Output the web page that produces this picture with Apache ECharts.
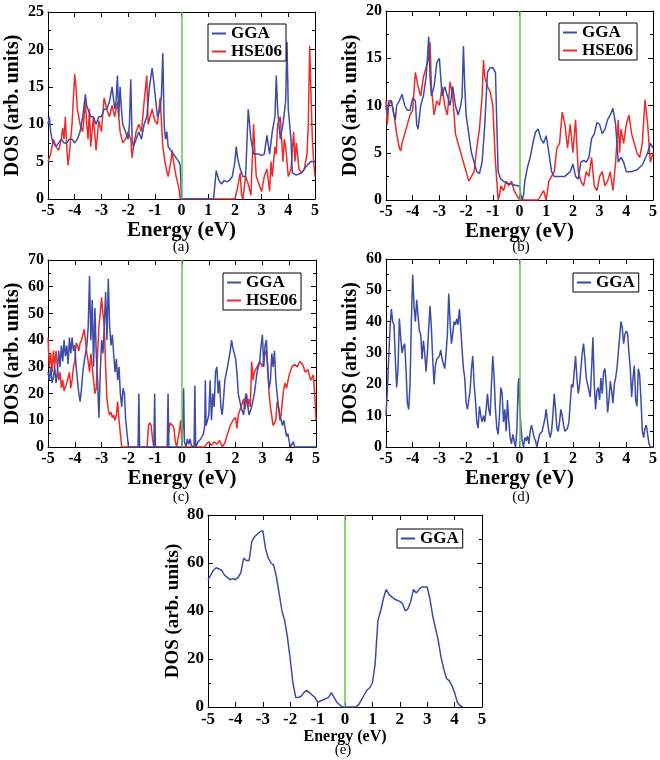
<!DOCTYPE html>
<html>
<head>
<meta charset="utf-8">
<script src="https://cdn.jsdelivr.net/npm/echarts@6/dist/echarts.min.js"></script>
<style>
  html, body { margin: 0; padding: 0; background: #fff; }
  #main { width: 660px; height: 760px; }
</style>
</head>
<body>
<div id="main"></div>
<script>
// energy (eV), DOS (arb. units) pairs
const aGGA = [[-5,10],[-4.95,11],[-4.9,9],[-4.85,8],[-4.8,7.5],[-4.7,7],[-4.6,7.5],[-4.5,8],[-4.4,7.5],[-4.3,7.5],[-4.2,8],[-4.1,8],[-4.0,7.5],[-3.9,8],[-3.8,9],[-3.7,11],[-3.6,14],[-3.55,12.5],[-3.5,12],[-3.4,11],[-3.3,11],[-3.2,10],[-3.1,11],[-3.0,11],[-2.9,12],[-2.8,12],[-2.7,13],[-2.6,15],[-2.5,12],[-2.45,13],[-2.4,16.5],[-2.35,11],[-2.3,15],[-2.25,12],[-2.2,10],[-2.1,9],[-2.0,8],[-1.95,10],[-1.9,16],[-1.85,8],[-1.8,7],[-1.7,8],[-1.6,9],[-1.5,8],[-1.4,10],[-1.3,11],[-1.2,15],[-1.1,17.5],[-1.05,16],[-1.0,16],[-0.9,11],[-0.8,12],[-0.75,14],[-0.7,19.5],[-0.65,10],[-0.6,8],[-0.55,9],[-0.5,7],[-0.4,6.5],[-0.3,6],[-0.2,5.5],[-0.1,5],[-0.05,4.5],[0,0],[1.2,0],[1.3,3.8],[1.4,2.5],[1.5,2],[1.6,2.5],[1.7,2.3],[1.8,2.5],[1.9,3],[2.0,5],[2.05,7],[2.1,5.5],[2.2,4],[2.3,3],[2.4,3],[2.5,12],[2.6,8],[2.7,6],[2.8,6],[2.9,6],[3.0,5.8],[3.1,6],[3.2,8.5],[3.3,6],[3.4,9],[3.5,11],[3.55,16.5],[3.6,12],[3.7,8],[3.8,10],[3.9,13],[3.95,21],[4.0,12],[4.1,8],[4.15,3.5],[4.3,3.2],[4.5,3.5],[4.7,4.5],[4.85,5],[5.0,5]];
const aHSE = [[-5,5],[-4.9,6],[-4.8,8],[-4.7,7],[-4.6,6.5],[-4.5,8],[-4.45,9.5],[-4.4,8],[-4.35,11],[-4.3,7],[-4.25,4.5],[-4.2,6],[-4.1,10],[-4.0,16.7],[-3.95,15],[-3.9,12],[-3.8,10],[-3.7,9],[-3.6,13],[-3.55,10],[-3.5,8],[-3.45,12],[-3.4,7],[-3.3,11],[-3.2,6.5],[-3.1,10.5],[-3.0,9],[-2.9,13.5],[-2.8,12],[-2.7,11],[-2.6,12.5],[-2.5,11],[-2.4,13],[-2.3,9],[-2.2,7.5],[-2.1,8],[-2.0,9],[-1.9,8],[-1.85,5.5],[-1.8,7],[-1.7,9],[-1.6,10],[-1.5,9],[-1.4,13],[-1.3,16.5],[-1.25,10],[-1.2,10],[-1.1,12],[-1.0,10.5],[-0.9,10],[-0.8,13.5],[-0.7,7],[-0.6,4.5],[-0.5,3],[-0.4,5],[-0.35,6.5],[-0.3,5],[-0.2,3],[-0.1,1.5],[-0.05,0],[2.0,0],[2.1,1.5],[2.2,3.5],[2.25,0.5],[2.3,0],[2.4,3],[2.5,2],[2.6,0.5],[2.7,10],[2.75,6],[2.8,3],[2.9,2],[3.0,1],[3.1,3],[3.2,4],[3.3,1],[3.35,5],[3.4,3],[3.5,7],[3.55,6],[3.6,10],[3.7,11],[3.75,8],[3.8,5],[3.85,8],[3.9,7],[4.0,3],[4.1,4],[4.2,9],[4.25,5],[4.3,7.5],[4.4,4],[4.5,3.5],[4.6,4],[4.7,6],[4.75,10],[4.8,20.5],[4.85,14],[4.9,8],[4.95,5],[5.0,3]];

const bGGA = [[-5,10],[-4.95,9],[-4.9,10.5],[-4.8,10.5],[-4.7,9],[-4.65,8.5],[-4.6,10],[-4.5,10.5],[-4.4,11.2],[-4.3,10],[-4.2,9.5],[-4.1,9.5],[-4.0,10.8],[-3.9,10.5],[-3.85,8],[-3.8,7.5],[-3.7,10],[-3.6,11],[-3.5,13],[-3.45,15],[-3.4,17.3],[-3.35,13],[-3.3,11],[-3.2,12],[-3.1,14.5],[-3.0,15],[-2.95,13],[-2.9,11],[-2.8,12],[-2.7,11],[-2.6,10],[-2.5,12],[-2.4,10],[-2.3,9],[-2.2,10],[-2.15,11],[-2.1,16.3],[-2.05,12],[-2.0,9],[-1.9,7],[-1.8,5],[-1.7,4],[-1.6,3],[-1.5,2.8],[-1.4,4],[-1.3,8],[-1.2,13.5],[-1.1,14],[-1.0,14],[-0.9,13.5],[-0.85,8],[-0.8,3],[-0.7,2.2],[-0.5,1.8],[-0.3,1.7],[-0.1,1.5],[0,1.5],[0.05,0.5],[0.1,0],[0.15,0.5],[0.2,2],[0.3,3.5],[0.4,4.5],[0.5,6],[0.6,7.2],[0.7,7.5],[0.8,6.5],[0.9,6],[1.0,6.8],[1.1,5],[1.2,3],[1.3,2.5],[1.5,2.5],[1.7,2.5],[1.9,3],[2.0,3.8],[2.1,2.5],[2.2,2.2],[2.3,4],[2.4,4.2],[2.5,4],[2.6,4.5],[2.7,6.5],[2.8,7],[2.9,8.2],[3.0,8],[3.1,7],[3.2,7.5],[3.3,8.5],[3.4,9],[3.5,9.7],[3.6,8],[3.65,6],[3.7,4],[3.8,4.5],[3.9,4],[4.0,3],[4.2,3],[4.4,3.2],[4.6,3.7],[4.8,5],[4.9,6],[5.0,5.5]];
const bHSE = [[-5,10.5],[-4.95,8],[-4.9,10],[-4.8,10.5],[-4.7,9],[-4.6,7],[-4.5,5.5],[-4.45,5.2],[-4.4,6],[-4.3,7],[-4.2,8],[-4.1,9],[-4.0,9.5],[-3.9,13.5],[-3.8,12],[-3.7,11],[-3.6,13],[-3.5,14],[-3.4,15],[-3.35,16.7],[-3.3,12],[-3.2,9],[-3.1,10.5],[-3.0,10],[-2.9,12],[-2.8,10],[-2.7,9],[-2.6,12.5],[-2.5,11],[-2.4,7],[-2.3,6],[-2.2,5],[-2.1,4],[-2.0,3],[-1.9,2],[-1.8,2.5],[-1.7,3],[-1.6,5.5],[-1.5,7.5],[-1.4,11],[-1.35,14.8],[-1.3,13],[-1.2,12],[-1.1,11.5],[-1.0,10],[-0.9,4],[-0.85,2],[-0.8,0],[-0.75,0.5],[-0.7,1.5],[-0.6,1],[-0.5,2],[-0.4,1.5],[-0.3,2],[-0.2,1],[-0.1,0.5],[0,0],[0.7,0],[0.8,0.5],[0.9,1],[1.0,0],[1.1,2],[1.2,2.5],[1.3,3],[1.4,5.5],[1.5,6],[1.6,9.3],[1.7,8],[1.8,5.5],[1.9,8],[2.0,5],[2.1,8.5],[2.2,3],[2.3,2],[2.4,1.5],[2.5,3],[2.6,2.5],[2.7,4.5],[2.8,1.5],[2.9,1],[3.0,2.5],[3.1,3],[3.2,1.5],[3.3,2],[3.4,3],[3.5,1],[3.6,4],[3.7,8.5],[3.75,5],[3.8,7.5],[3.9,6],[4.0,8],[4.1,9],[4.2,7],[4.3,6],[4.4,5],[4.5,4.5],[4.6,6],[4.7,10.6],[4.8,8],[4.9,4],[5.0,5]];

const cGGA = [[-5,28],[-4.95,25],[-4.9,30],[-4.85,24],[-4.8,26],[-4.75,30],[-4.7,24],[-4.65,28],[-4.6,36],[-4.55,30],[-4.5,38],[-4.45,32],[-4.4,40],[-4.35,34],[-4.3,38],[-4.25,31],[-4.2,41],[-4.15,35],[-4.1,41],[-4.05,36],[-4.0,38],[-3.95,30],[-3.9,25],[-3.85,20],[-3.8,17],[-3.75,22],[-3.7,28],[-3.65,32],[-3.6,35],[-3.55,38],[-3.5,45],[-3.45,64],[-3.4,40],[-3.35,55],[-3.3,30],[-3.25,52],[-3.2,35],[-3.15,25],[-3.1,11],[-3.05,28],[-3.0,40],[-2.95,35],[-2.9,45],[-2.85,58],[-2.8,40],[-2.75,63],[-2.7,45],[-2.65,38],[-2.6,42],[-2.55,35],[-2.5,28],[-2.45,33],[-2.4,25],[-2.35,30],[-2.3,20],[-2.25,15],[-2.2,22],[-2.15,20],[-2.1,10],[-2.05,5],[-2.0,0],[-1.64,0],[-1.61,20],[-1.58,0],[-1.05,0],[-1.02,20],[-0.99,0],[-0.55,0],[-0.52,20],[-0.49,0],[0,0],[0.03,10],[0.06,22],[0.09,2],[0.15,0],[0.2,3],[0.25,1],[0.3,3],[0.35,0.5],[0.45,0],[0.48,23],[0.51,0],[0.6,2],[0.7,3],[0.8,5],[0.85,8],[0.87,25],[0.9,8],[1.0,12],[1.05,25],[1.1,10],[1.15,20],[1.2,15],[1.25,28],[1.3,30],[1.35,20],[1.4,25],[1.45,15],[1.5,12],[1.55,18],[1.6,25],[1.7,30],[1.8,36],[1.85,40],[1.9,37],[2.0,33],[2.05,28],[2.1,20],[2.2,15],[2.3,12],[2.35,18],[2.4,20],[2.5,12],[2.6,15],[2.7,20],[2.8,28],[2.9,32],[2.95,38],[3.0,42],[3.05,30],[3.1,38],[3.15,40],[3.2,28],[3.25,22],[3.3,25],[3.35,35],[3.4,30],[3.45,36],[3.5,25],[3.55,20],[3.6,15],[3.65,12],[3.7,10],[3.75,8],[3.8,10],[3.85,7],[3.9,4],[3.95,5],[4.0,2],[4.05,0],[4.1,1],[4.15,2],[4.2,0],[5.0,0]];
const cHSE = [[-5,41],[-4.95,30],[-4.9,35],[-4.85,28],[-4.8,36],[-4.75,30],[-4.7,36],[-4.65,30],[-4.6,25],[-4.55,28],[-4.5,22],[-4.45,25],[-4.4,21],[-4.3,24],[-4.2,28],[-4.15,22],[-4.1,25],[-4.05,30],[-4.0,32],[-3.95,39],[-3.9,38],[-3.85,36],[-3.8,39],[-3.75,40],[-3.7,42],[-3.65,44],[-3.6,40],[-3.55,35],[-3.5,32],[-3.45,28],[-3.4,35],[-3.35,30],[-3.3,25],[-3.25,20],[-3.2,22],[-3.15,35],[-3.1,45],[-3.05,50],[-3.0,56],[-2.95,50],[-2.9,45],[-2.85,30],[-2.8,18],[-2.75,14],[-2.7,12],[-2.65,13],[-2.6,11],[-2.55,12],[-2.5,10],[-2.45,12],[-2.4,17],[-2.35,10],[-2.3,5],[-2.25,0],[-1.3,0],[-1.25,8],[-1.2,9],[-1.15,8],[-1.1,3],[-1.05,0],[-0.55,0],[-0.5,5],[-0.45,9],[-0.4,9],[-0.35,8],[-0.3,7],[-0.25,2],[-0.2,0],[-0.1,6],[-0.05,10],[0,0],[0.85,0],[0.9,1],[1.0,2],[1.1,0.5],[1.2,2],[1.3,1],[1.4,2.5],[1.5,0],[1.6,1.5],[1.7,5],[1.8,8],[1.9,10],[2.0,11],[2.05,7],[2.1,12],[2.2,15],[2.3,18],[2.35,14],[2.4,20],[2.45,15],[2.5,18],[2.55,15],[2.6,32],[2.65,25],[2.7,28],[2.8,30],[2.9,32],[3.0,30],[3.1,35],[3.15,36],[3.2,30],[3.25,20],[3.3,15],[3.4,8],[3.5,10],[3.55,17],[3.6,15],[3.65,10],[3.7,12],[3.75,18],[3.8,22],[3.85,24],[3.9,22],[4.0,27],[4.1,30],[4.2,31],[4.3,30],[4.4,32],[4.5,31],[4.6,28],[4.7,29],[4.75,27],[4.8,25],[4.9,27],[4.95,20],[5.0,10]];

const dGGA = [[-5,10],[-4.95,18],[-4.9,28],[-4.85,38],[-4.8,44],[-4.75,40],[-4.7,39],[-4.65,28],[-4.6,19],[-4.55,25],[-4.5,41],[-4.45,35],[-4.4,30],[-4.35,32],[-4.3,33],[-4.25,25],[-4.2,14],[-4.15,12],[-4.1,20],[-4.05,40],[-4.0,55],[-3.95,45],[-3.9,40],[-3.85,47],[-3.8,42],[-3.75,37],[-3.7,36],[-3.65,28],[-3.6,34],[-3.55,30],[-3.5,24],[-3.45,30],[-3.4,38],[-3.35,45],[-3.3,38],[-3.25,28],[-3.2,20],[-3.15,26],[-3.1,28],[-3.0,29],[-2.95,31],[-2.9,28],[-2.8,25],[-2.75,30],[-2.7,36],[-2.65,49],[-2.6,40],[-2.55,33],[-2.5,36],[-2.45,40],[-2.4,39],[-2.35,41],[-2.3,39],[-2.25,44],[-2.2,38],[-2.15,31],[-2.1,25],[-2.05,22],[-2.0,14],[-1.95,12],[-1.9,15],[-1.85,18],[-1.8,25],[-1.75,29],[-1.7,20],[-1.65,15],[-1.6,8],[-1.55,6],[-1.5,13],[-1.45,10],[-1.4,8],[-1.35,10],[-1.3,8],[-1.25,12],[-1.2,17],[-1.15,12],[-1.1,10],[-1.05,20],[-1.0,29],[-0.95,22],[-0.9,12],[-0.85,6],[-0.8,4],[-0.75,10],[-0.7,19],[-0.65,17],[-0.6,8],[-0.55,12],[-0.5,5],[-0.45,15],[-0.4,8],[-0.35,3],[-0.3,1],[-0.25,4],[-0.2,2],[-0.15,0],[-0.1,5],[-0.05,20],[-0.02,22],[0,14],[0.05,7],[0.1,2],[0.15,0],[0.2,3],[0.25,2],[0.3,3.5],[0.35,1],[0.4,5],[0.45,7],[0.5,5],[0.55,3],[0.6,2],[0.65,0],[0.7,2],[0.75,4],[0.8,4],[0.85,5],[0.9,7],[0.95,9],[1.0,12],[1.05,8],[1.1,5],[1.15,3],[1.2,5],[1.25,10],[1.3,17],[1.35,12],[1.4,6],[1.45,5],[1.5,8],[1.55,12],[1.6,10],[1.65,7],[1.7,5],[1.8,6],[1.85,8],[1.9,14],[1.95,20],[2.0,19],[2.05,24],[2.1,29],[2.15,22],[2.2,17],[2.25,20],[2.3,25],[2.35,30],[2.4,33],[2.45,28],[2.5,22],[2.55,20],[2.6,18],[2.65,16],[2.7,25],[2.75,35],[2.8,20],[2.85,12],[2.9,18],[2.95,19],[3.0,15],[3.05,22],[3.1,17],[3.15,24],[3.2,25],[3.25,20],[3.3,11],[3.35,15],[3.4,21],[3.45,18],[3.5,14],[3.55,20],[3.6,22],[3.65,25],[3.7,30],[3.75,35],[3.8,40],[3.85,38],[3.9,33],[3.95,36],[4.0,37],[4.05,36],[4.1,30],[4.15,25],[4.2,16],[4.25,22],[4.3,26],[4.35,15],[4.4,13],[4.45,25],[4.5,23],[4.55,15],[4.6,5],[4.65,3],[4.7,6],[4.75,7],[4.8,4],[4.85,1],[4.9,0],[5.0,0]];

const eGGA = [[-5,53],[-4.9,55],[-4.8,57],[-4.7,58],[-4.6,57.5],[-4.5,57],[-4.4,55],[-4.3,54],[-4.2,53],[-4.1,53.5],[-4.0,53],[-3.9,54],[-3.8,56],[-3.7,62],[-3.6,61],[-3.5,61],[-3.4,69],[-3.3,71],[-3.2,72],[-3.1,73],[-3.0,73.5],[-2.9,66],[-2.8,62],[-2.7,60],[-2.6,59],[-2.5,54],[-2.4,47],[-2.3,40],[-2.2,36],[-2.1,29],[-2.0,20],[-1.9,10],[-1.8,4],[-1.7,4],[-1.6,4.5],[-1.5,6],[-1.4,7],[-1.3,6],[-1.2,5],[-1.1,4],[-1.0,2],[-0.9,2.5],[-0.8,3],[-0.7,3.5],[-0.6,4],[-0.5,6],[-0.4,4],[-0.3,2],[-0.2,1],[-0.1,0],[0.4,0],[0.5,1],[0.6,3],[0.7,5],[0.8,7],[0.9,8],[1.0,10],[1.1,18],[1.2,36],[1.3,40],[1.4,45],[1.5,49],[1.6,47],[1.7,46],[1.8,45],[1.9,44.5],[2.0,44],[2.1,43],[2.2,40],[2.3,41],[2.4,44],[2.5,49],[2.6,47.5],[2.7,49],[2.8,50],[2.9,50],[3.0,50],[3.1,45],[3.2,38],[3.3,33],[3.4,28],[3.5,21],[3.6,16],[3.7,12],[3.8,11],[3.9,9],[4.0,6],[4.1,2],[4.2,0.5],[4.3,0]];

const yMax = [25, 20, 70, 60, 80];
const yStep = [5, 5, 10, 10, 20];
const captions = ['(a)', '(b)', '(c)', '(d)', '(e)'];
const seriesNames = ['GGA', 'HSE06'];

const FONT = "'Liberation Serif', 'DejaVu Serif', serif";
const BLUE = '#3c4ca8';
const RED = '#ee2a2a';
const GREEN = '#66c444';

const panels = [
  { grid: {left: 48, top: 12, width: 267, height: 187}, lines: [aGGA, aHSE], legend: {left: 208, top: 24}, cap: [181, 247], tick: 16, title: 21, yTitle: 20 },
  { grid: {left: 386, top: 11, width: 271, height: 189}, lines: [bGGA, bHSE], legend: {left: 559, top: 23}, cap: [521, 247], tick: 16, title: 21, yTitle: 20 },
  { grid: {left: 48, top: 260, width: 268, height: 187}, lines: [cGGA, cHSE], legend: {left: 223, top: 273}, cap: [181, 497], tick: 16, title: 21, yTitle: 20 },
  { grid: {left: 386, top: 259, width: 270, height: 188}, lines: [dGGA], legend: {left: 573, top: 273}, cap: [521, 497], tick: 16, title: 21, yTitle: 20 },
  { grid: {left: 208, top: 515, width: 274, height: 192}, lines: [eGGA], legend: {left: 397, top: 529}, cap: [343, 750], tick: 17, title: 16, yTitle: 19 }
];

let grids = [], xAxes = [], yAxes = [], series = [], legends = [], graphics = [];
const axisLine = {show: true, onZero: false, lineStyle: {color: '#000', width: 1}};
const tick = {show: true, inside: true, length: 5, lineStyle: {color: '#000'}};

panels.forEach(function (p, i) {
  grids.push(p.grid);
  let lbl = {color: '#000', fontFamily: FONT, fontWeight: 'bold', fontSize: p.tick, margin: 4};
  // bottom + mirrored top
  xAxes.push({gridIndex: i, type: 'value', min: -5, max: 5, interval: 1, position: 'bottom',
    axisLine: axisLine, axisTick: tick, splitLine: {show: false}, axisLabel: lbl,
    name: 'Energy (eV)', nameLocation: 'middle', nameGap: i == 4 ? 19 : 18,
    nameTextStyle: {color: '#000', fontFamily: FONT, fontWeight: 'bold', fontSize: p.title}});
  xAxes.push({gridIndex: i, type: 'value', min: -5, max: 5, interval: 1, position: 'top',
    axisLine: axisLine, axisTick: tick, splitLine: {show: false}, axisLabel: {show: false}});
  let minor = {show: true, splitNumber: 2, length: 3, lineStyle: {color: '#000'}};
  yAxes.push({gridIndex: i, type: 'value', min: 0, max: yMax[i], interval: yStep[i], position: 'left',
    axisLine: axisLine, axisTick: tick, minorTick: minor, splitLine: {show: false}, axisLabel: lbl,
    name: 'DOS (arb. units)', nameLocation: 'middle', nameGap: 25,
    nameTextStyle: {color: '#000', fontFamily: FONT, fontWeight: 'bold', fontSize: p.yTitle}});
  yAxes.push({gridIndex: i, type: 'value', min: 0, max: yMax[i], interval: yStep[i], position: 'right',
    axisLine: axisLine, axisTick: tick, minorTick: minor, splitLine: {show: false}, axisLabel: {show: false}});

  p.lines.forEach(function (d, k) {
    let s = {
      name: seriesNames[k], type: 'line', data: d,
      xAxisIndex: 2 * i, yAxisIndex: 2 * i,
      showSymbol: false, symbol: 'none', smooth: false,
      lineStyle: {color: k == 0 ? BLUE : RED, width: 1.5},
      itemStyle: {color: k == 0 ? BLUE : RED},
      z: k == 0 ? 3 : 2
    };
    if (k == 0) {
      // Fermi level marker
      s.markLine = {silent: true, symbol: 'none', label: {show: false},
        lineStyle: {color: GREEN, width: 1.5, type: 'solid'}, data: [{xAxis: 0}]};
    }
    series.push(s);
  });

  legends.push({
    left: p.legend.left, top: p.legend.top, orient: 'vertical',
    data: seriesNames.slice(0, p.lines.length),
    icon: 'rect', itemWidth: 14, itemHeight: 2, itemGap: 1,
    padding: [1, 4, 1, 4], borderColor: '#000', borderWidth: 1, backgroundColor: '#fff',
    selectedMode: false,
    textStyle: {color: '#000', fontFamily: FONT, fontWeight: 'bold', fontSize: 17}
  });

  graphics.push({type: 'text', x: p.cap[0], y: p.cap[1],
    style: {text: captions[i], fill: '#000', font: '15px ' + FONT, align: 'center', verticalAlign: 'middle'}});
});

let chart = echarts.init(document.getElementById('main'));
chart.setOption({
  animation: false,
  backgroundColor: '#fff',
  grid: grids,
  xAxis: xAxes,
  yAxis: yAxes,
  legend: legends,
  graphic: graphics,
  series: series
});
</script>
</body>
</html>
